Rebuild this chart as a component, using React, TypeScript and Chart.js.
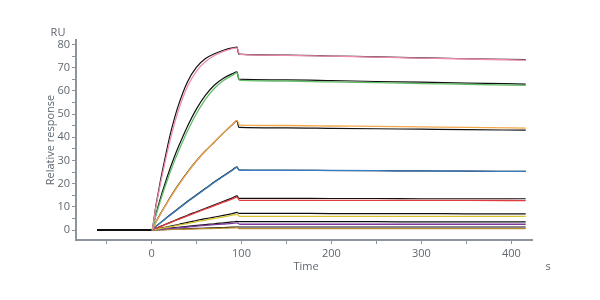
import React, { useEffect, useRef } from "react";
import { Chart, registerables } from "chart.js";

Chart.register(...registerables);

// Time points (s)
const baselineTimes = [-60, 0];
const assocTimes = [0, 5, 10, 15, 20, 25, 30, 40, 50, 60, 70, 80, 90, 95];
const fitDissocTimes = [97, 150, 200, 250, 300, 350, 416];
const dataDissocTimes = [98, 150, 200, 250, 300, 350, 416];

// Axis tick values
const xTickValues = [-50, 0, 50, 100, 150, 200, 250, 300, 350, 400];
const yTickValues = [0, 5, 10, 15, 20, 25, 30, 35, 40, 45, 50, 55, 60, 65, 70, 75, 80];

// Fitted curves (black), association phase (RU)
const fitAssoc1 = [0, 11, 21.5, 31, 40, 47.5, 54, 64, 70.3, 74, 76.1, 77.6, 78.6, 78.9];
const fitAssoc2 = [0, 7.1, 13.9, 20.1, 25.9, 31.2, 36, 44.8, 52.3, 58.2, 62.6, 65.5, 67.5, 68.3];
const fitAssoc3 = [0, 3.6, 7.1, 10.4, 13.6, 16.7, 19.6, 25, 29.9, 34.2, 38, 41.9, 45.5, 47.1];
const fitAssoc4 = [0, 1.6, 3.2, 4.8, 6.4, 7.9, 9.4, 12.4, 15.2, 18, 20.8, 23.4, 26, 27.3];
const fitAssoc5 = [0, 0.8, 1.6, 2.4, 3.2, 4, 4.8, 6.4, 7.9, 9.4, 10.9, 12.4, 13.9, 14.7];
const fitAssoc6 = [0, 0.4, 0.8, 1.2, 1.6, 2, 2.4, 3.3, 4.1, 4.9, 5.6, 6.3, 7.1, 7.6];
const fitAssoc7 = [0, 0.2, 0.4, 0.6, 0.8, 1, 1.2, 1.6, 2, 2.4, 2.7, 3.1, 3.5, 3.7];
const fitAssoc8 = [0, 0.07, 0.14, 0.2, 0.27, 0.34, 0.4, 0.55, 0.7, 0.82, 0.95, 1.1, 1.22, 1.3];

// Fitted curves (black), dissociation phase (RU)
const fitDissoc1 = [75.9, 75.5, 75.1, 74.7, 74.3, 73.9, 73.5];
const fitDissoc2 = [65.1, 64.8, 64.5, 64.1, 63.8, 63.4, 63.0];
const fitDissoc3 = [44.3, 44.1, 43.9, 43.7, 43.5, 43.3, 43.1];
const fitDissoc4 = [25.9, 25.8, 25.7, 25.6, 25.5, 25.4, 25.3];
const fitDissoc5 = [13.7, 13.7, 13.6, 13.6, 13.5, 13.5, 13.5];
const fitDissoc6 = [7.2, 7.2, 7.1, 7.1, 7.1, 7.0, 7.0];
const fitDissoc7 = [3.6, 3.6, 3.6, 3.6, 3.5, 3.5, 3.5];
const fitDissoc8 = [1.3, 1.3, 1.3, 1.3, 1.3, 1.3, 1.3];

// Measured sensorgrams (coloured), association phase (RU)
const dataAssoc1 = [0, 10.3, 20.2, 29.3, 37.8, 45.3, 51.8, 62, 68.6, 72.7, 75.3, 77.1, 78.3, 78.6];
const dataAssoc2 = [0, 6.5, 12.8, 18.7, 24.2, 29.3, 34, 42.7, 50.3, 56.5, 61.2, 64.5, 66.8, 67.8];
const dataAssoc3 = [0, 3.5, 6.9, 10.2, 13.4, 16.5, 19.4, 24.8, 29.8, 34.1, 38.1, 42, 45.6, 47.3];
const dataAssoc4 = [0, 1.6, 3.1, 4.7, 6.2, 7.7, 9.2, 12.2, 15, 17.8, 20.6, 23.2, 25.8, 27.1];
const dataAssoc5 = [0, 0.8, 1.5, 2.3, 3.1, 3.8, 4.6, 6.1, 7.6, 9.1, 10.5, 12, 13.4, 14.2];
const dataAssoc6 = [0, 0.3, 0.7, 1, 1.4, 1.7, 2.1, 2.8, 3.6, 4.3, 5, 5.7, 6.4, 6.8];
const dataAssoc7 = [0, 0.15, 0.3, 0.5, 0.7, 0.8, 1, 1.3, 1.7, 2, 2.3, 2.6, 2.9, 3.1];
const dataAssoc8 = [0, 0.05, 0.1, 0.15, 0.2, 0.25, 0.3, 0.4, 0.5, 0.6, 0.7, 0.8, 0.9, 1.0];

// Measured sensorgrams (coloured), dissociation phase (RU)
const dataDissoc1 = [75.8, 75.4, 75.0, 74.6, 74.2, 73.8, 73.3];
const dataDissoc2 = [64.6, 64.3, 63.9, 63.6, 63.2, 62.9, 62.4];
const dataDissoc3 = [45.3, 45.1, 44.9, 44.7, 44.5, 44.3, 44.0];
const dataDissoc4 = [25.8, 25.8, 25.7, 25.6, 25.5, 25.4, 25.3];
const dataDissoc5 = [12.8, 12.8, 12.8, 12.8, 12.8, 12.8, 12.7];
const dataDissoc6 = [5.9, 5.9, 5.9, 5.9, 5.9, 5.9, 5.9];
const dataDissoc7 = [2.5, 2.5, 2.5, 2.5, 2.5, 2.5, 2.5];
const dataDissoc8 = [0.6, 0.6, 0.6, 0.6, 0.6, 0.6, 0.6];

const seriesColors = ["#f08aaa", "#62bd68", "#f4a84c", "#3a7cbd", "#e2393f", "#d8c430", "#7d3c9c", "#b88b30"];

const fitAssoc = [fitAssoc1, fitAssoc2, fitAssoc3, fitAssoc4, fitAssoc5, fitAssoc6, fitAssoc7, fitAssoc8];
const fitDissoc = [fitDissoc1, fitDissoc2, fitDissoc3, fitDissoc4, fitDissoc5, fitDissoc6, fitDissoc7, fitDissoc8];
const dataAssoc = [dataAssoc1, dataAssoc2, dataAssoc3, dataAssoc4, dataAssoc5, dataAssoc6, dataAssoc7, dataAssoc8];
const dataDissoc = [dataDissoc1, dataDissoc2, dataDissoc3, dataDissoc4, dataDissoc5, dataDissoc6, dataDissoc7, dataDissoc8];

const AXIS_COLOR = "#8d949c";
const TEXT_COLOR = "#5f6770";
const FIT_COLOR = "#111111";
const FONT = "'Open Sans', 'Noto Sans', sans-serif";

function buildPoints(assoc: number[], dTimes: number[], dissoc: number[]) {
  const pts: { x: number; y: number }[] = [];
  pts.push({ x: baselineTimes[0], y: 0 });
  assocTimes.forEach((t, i) => pts.push({ x: t, y: assoc[i] }));
  dTimes.forEach((t, i) => pts.push({ x: t, y: dissoc[i] }));
  return pts;
}

const textPlugin = {
  id: "extraText",
  afterDraw(chart: any) {
    const ctx = chart.ctx;
    ctx.save();
    ctx.fillStyle = TEXT_COLOR;
    ctx.font = `11px ${FONT}`;
    ctx.textAlign = "center";
    ctx.textBaseline = "middle";
    ctx.fillText("RU", 58, 33);
    ctx.fillText("Time", 306, 267);
    ctx.fillText("s", 548, 267);
    ctx.translate(51, 140);
    ctx.rotate(-Math.PI / 2);
    ctx.fillText("Relative response", 0, 0);
    ctx.restore();
  },
};

export default function App() {
  const ref = useRef<HTMLCanvasElement | null>(null);

  useEffect(() => {
    if (!ref.current) return;
    const datasets: any[] = [];
    for (let i = 0; i < 8; i++) {
      datasets.push({
        data: buildPoints(dataAssoc[i], dataDissocTimes, dataDissoc[i]),
        borderColor: seriesColors[i],
        borderWidth: 1.3,
        pointRadius: 0,
        cubicInterpolationMode: "monotone",
        fill: false,
        order: 1,
        segment: {
          borderColor: (c: any) => (c.p1.parsed.x <= 0 ? FIT_COLOR : undefined),
        },
      });
    }
    for (let i = 0; i < 8; i++) {
      datasets.push({
        data: buildPoints(fitAssoc[i], fitDissocTimes, fitDissoc[i]),
        borderColor: FIT_COLOR,
        borderWidth: 1.2,
        pointRadius: 0,
        cubicInterpolationMode: "monotone",
        fill: false,
        order: 2,
      });
    }

    const chart = new Chart(ref.current, {
      type: "line",
      data: { datasets },
      plugins: [textPlugin],
      options: {
        animation: false,
        responsive: false,
        events: [],
        layout: { padding: { top: 40, right: 68, left: 0, bottom: 0 } },
        plugins: { legend: { display: false }, tooltip: { enabled: false } },
        scales: {
          x: {
            type: "linear",
            min: -84,
            max: 423,
            afterFit: (s: any) => {
              s.height = 60;
            },
            afterBuildTicks: (s: any) => {
              s.ticks = xTickValues.map((v) => ({ value: v }));
            },
            ticks: {
              autoSkip: false,
              maxRotation: 0,
              color: TEXT_COLOR,
              font: { family: FONT, size: 11 },
              padding: 3,
              callback: (v: any) => (Number(v) % 100 === 0 ? String(v) : ""),
            },
            grid: {
              drawOnChartArea: false,
              drawTicks: true,
              tickLength: 4,
              color: AXIS_COLOR,
              lineWidth: 1,
            },
            border: { display: true, color: AXIS_COLOR, width: 2 },
          },
          y: {
            type: "linear",
            min: -4.3,
            max: 82,
            afterFit: (s: any) => {
              s.width = 76;
            },
            afterBuildTicks: (s: any) => {
              s.ticks = yTickValues.map((v) => ({ value: v }));
            },
            ticks: {
              autoSkip: false,
              color: TEXT_COLOR,
              font: { family: FONT, size: 11 },
              padding: 2,
              callback: (v: any) => (Number(v) % 10 === 0 ? String(v) : ""),
            },
            grid: {
              drawOnChartArea: false,
              drawTicks: true,
              tickLength: 4,
              color: AXIS_COLOR,
              lineWidth: 1,
            },
            border: { display: true, color: AXIS_COLOR, width: 2 },
          },
        },
      },
    });
    return () => chart.destroy();
  }, []);

  return (
    <div style={{ position: "absolute", left: 0, top: 0, width: 600, height: 300, background: "#fff" }}>
      <canvas ref={ref} width={600} height={300} style={{ display: "block" }} />
    </div>
  );
}
